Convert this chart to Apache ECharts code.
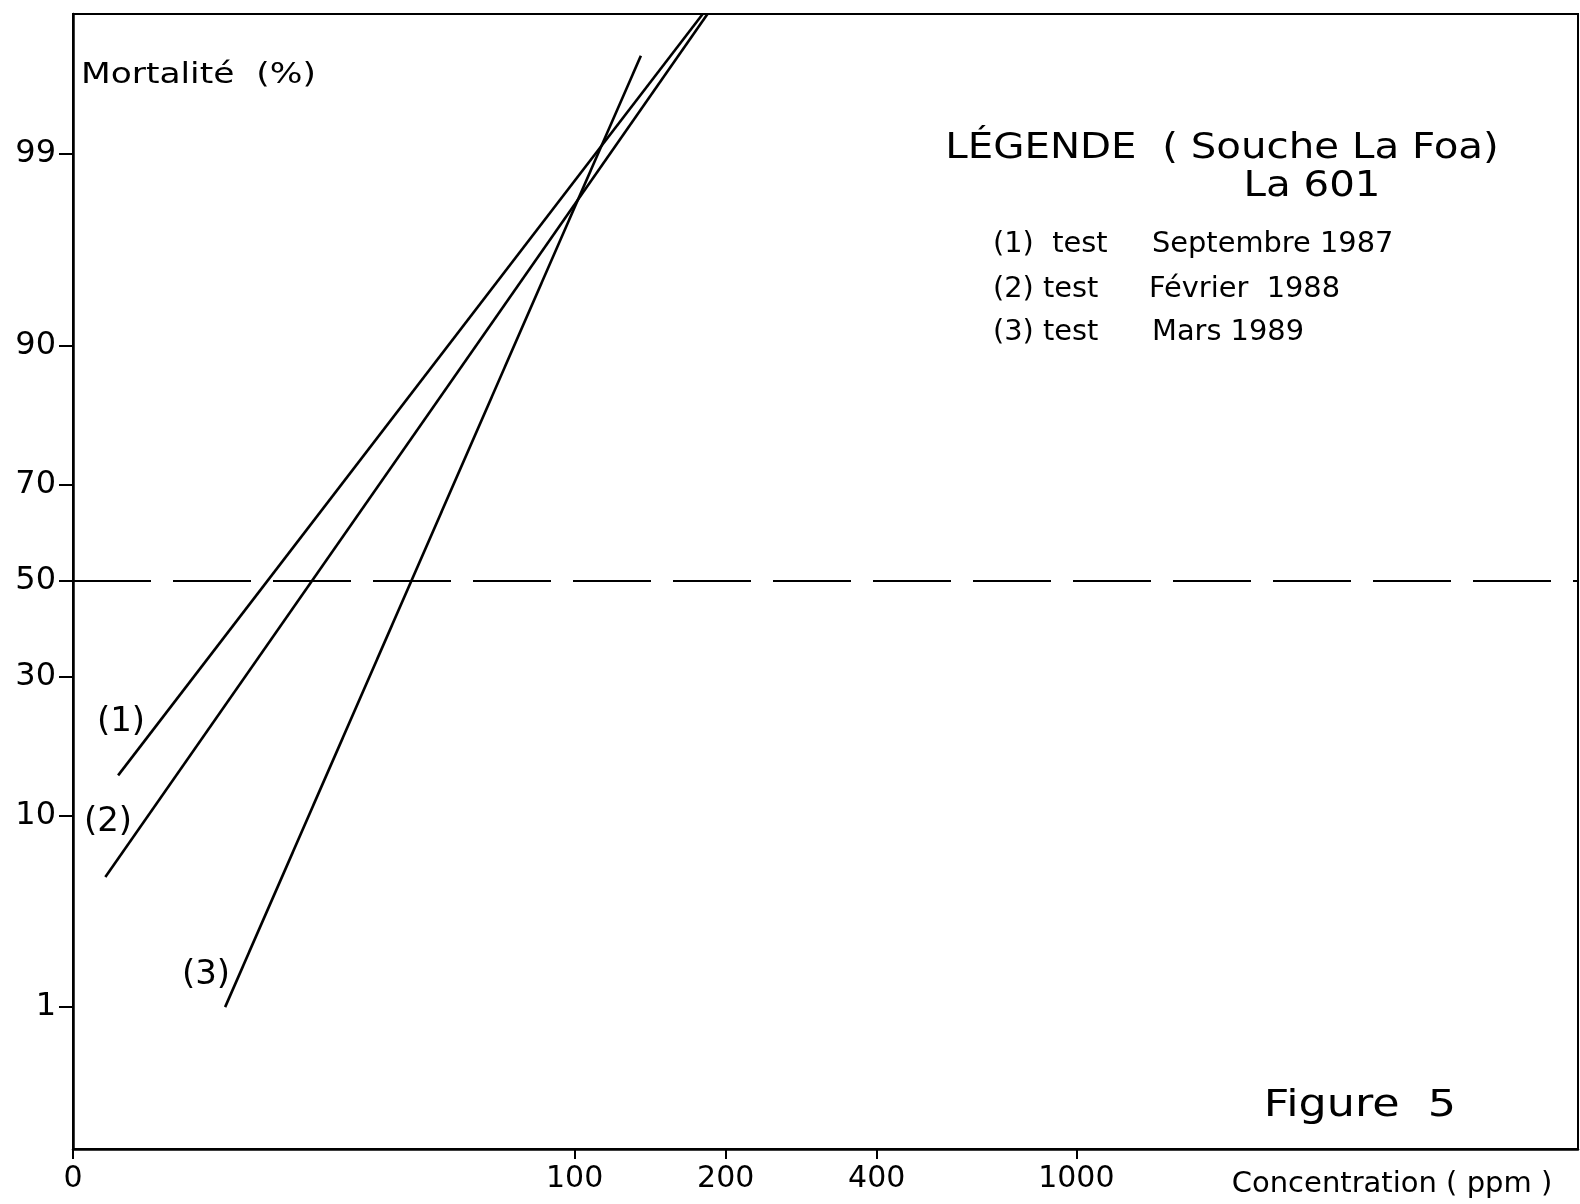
<!DOCTYPE html>
<html>
<head>
<meta charset="utf-8">
<script src="https://cdn.jsdelivr.net/npm/echarts@6/dist/echarts.min.js"></script>
<style>
html,body{margin:0;padding:0;background:#fff;}
#chart{width:1580px;height:1204px;}
</style>
</head>
<body>
<div id="chart"></div>
<script>
// ---- Data ----
const concTicks = [10, 100, 200, 400, 1000];          // ppm (origin drawn as "0")
const concTickLabels = ['0', '100', '200', '400', '1000'];
const mortTicks = [1, 10, 30, 50, 70, 90, 99];         // %
const mortTickLabels = ['1', '10', '30', '50', '70', '90', '99'];

const seriesNames = ['(1)', '(2)', '(3)'];
const line1Conc = [12.3, 180];
const line1Mort = [14.4, 99.9];
const line2Conc = [11.6, 184];
const line2Mort = [5.3, 99.9];
const line3Conc = [20.1, 135.5];
const line3Mort = [1.0, 99.79];
const refMort = 50;

// ---- Scale transforms: log10 concentration, probit mortality ----
function invNorm(p) {
  const a = [-3.969683028665376e+01, 2.209460984245205e+02, -2.759285104469687e+02, 1.383577518672690e+02, -3.066479806614716e+01, 2.506628277459239e+00];
  const b = [-5.447609879822406e+01, 1.615858368580409e+02, -1.556989798598866e+02, 6.680131188771972e+01, -1.328068155288572e+01];
  const c = [-7.784894002430293e-03, -3.223964580411365e-01, -2.400758277161838e+00, -2.549732539343734e+00, 4.374664141464968e+00, 2.938163982698783e+00];
  const d = [7.784695709041462e-03, 3.224671290700398e-01, 2.445134137142996e+00, 3.754408661907416e+00];
  const pl = 0.02425, ph = 1 - pl;
  let q, r;
  if (p < pl) {
    q = Math.sqrt(-2 * Math.log(p));
    return (((((c[0]*q+c[1])*q+c[2])*q+c[3])*q+c[4])*q+c[5]) / ((((d[0]*q+d[1])*q+d[2])*q+d[3])*q+1);
  } else if (p <= ph) {
    q = p - 0.5; r = q * q;
    return (((((a[0]*r+a[1])*r+a[2])*r+a[3])*r+a[4])*r+a[5])*q / (((((b[0]*r+b[1])*r+b[2])*r+b[3])*r+b[4])*r+1);
  } else {
    q = Math.sqrt(-2 * Math.log(1 - p));
    return -(((((c[0]*q+c[1])*q+c[2])*q+c[3])*q+c[4])*q+c[5]) / ((((d[0]*q+d[1])*q+d[2])*q+d[3])*q+1);
  }
}
const px = v => Math.log10(v);
const py = v => invNorm(v / 100);
const pts = (xs, ys) => xs.map((x, i) => [px(x), py(ys[i])]);

const xTickVals = concTicks.map(px);
const yTickVals = mortTicks.map(py);
function lookup(vals, labels, v) {
  let best = 0, bd = Infinity;
  vals.forEach((t, i) => { const d = Math.abs(t - v); if (d < bd) { bd = d; best = i; } });
  return bd < 1e-6 ? labels[best] : '';
}

const FONT = 'DejaVu Sans';
const lineStyle = { color: '#000', width: 2.6 };
function txt(text, x, y, size, opts) {
  opts = opts || {};
  return { type: 'text', x: x, y: y, scaleX: opts.sx || 1,
    style: { text: text, font: size + 'px "DejaVu Sans"', fill: '#000',
      align: opts.align || 'left', verticalAlign: 'middle' } };
}

const chart = echarts.init(document.getElementById('chart'), null, { renderer: 'canvas' });
chart.setOption({
  backgroundColor: '#fff',
  animation: false,
  grid: { left: 73, right: 2, top: 14, bottom: 55, show: true, borderColor: '#000', borderWidth: 2, backgroundColor: 'transparent' },
  xAxis: {
    type: 'value', min: 1, max: 4,
    axisLine: { show: true, onZero: false, lineStyle: { color: '#000', width: 2.5 } },
    axisTick: { show: true, customValues: xTickVals, length: 10, inside: false, lineStyle: { color: '#000', width: 2 } },
    axisLabel: { show: true, customValues: xTickVals, margin: 15, color: '#000', fontSize: 30, fontFamily: FONT,
      formatter: v => lookup(xTickVals, concTickLabels, v) },
    splitLine: { show: false }
  },
  yAxis: {
    type: 'value', min: -3.1, max: 3.09,
    axisLine: { show: true, onZero: false, lineStyle: { color: '#000', width: 2.5 } },
    axisTick: { show: true, customValues: yTickVals, length: 14, lineStyle: { color: '#000', width: 2 } },
    axisLabel: { show: true, customValues: yTickVals, margin: 17, color: '#000', fontSize: 32, fontFamily: FONT,
      formatter: v => lookup(yTickVals, mortTickLabels, v) },
    splitLine: { show: false }
  },
  series: [
    { name: seriesNames[0], type: 'line', data: pts(line1Conc, line1Mort), symbol: 'none', lineStyle: lineStyle,
      markLine: { silent: true, symbol: ['none', 'none'], label: { show: false },
        lineStyle: { color: '#000', width: 2, type: [78, 22] },
        data: [{ yAxis: py(refMort) }] } },
    { name: seriesNames[1], type: 'line', data: pts(line2Conc, line2Mort), symbol: 'none', lineStyle: lineStyle },
    { name: seriesNames[2], type: 'line', data: pts(line3Conc, line3Mort), symbol: 'none', lineStyle: lineStyle }
  ],
  graphic: [
    txt('Mortalité  (%)', 81, 76, 28, { sx: 1.23 }),
    txt('Concentration ( ppm )', 1392, 1184, 29, { align: 'center' }),
    txt('LÉGENDE  ( Souche La Foa)', 1222, 149, 36, { align: 'center', sx: 1.12 }),
    txt('La 601', 1312, 187, 36, { align: 'center', sx: 1.12 }),
    txt('(1)  test', 993, 245, 28, { sx: 1.03 }),
    txt('Septembre 1987', 1152, 245, 28, { sx: 1.03 }),
    txt('(2) test', 993, 290, 28, { sx: 1.03 }),
    txt('Février  1988', 1149, 290, 28, { sx: 1.03 }),
    txt('(3) test', 993, 333, 28, { sx: 1.03 }),
    txt('Mars 1989', 1152, 333, 28, { sx: 1.03 }),
    txt('Figure  5', 1360, 1106, 38, { align: 'center', sx: 1.17 }),
    txt('(1)', 121, 722, 34, { align: 'center' }),
    txt('(2)', 108, 822, 34, { align: 'center' }),
    txt('(3)', 206, 975, 34, { align: 'center' })
  ]
});
</script>
</body>
</html>
